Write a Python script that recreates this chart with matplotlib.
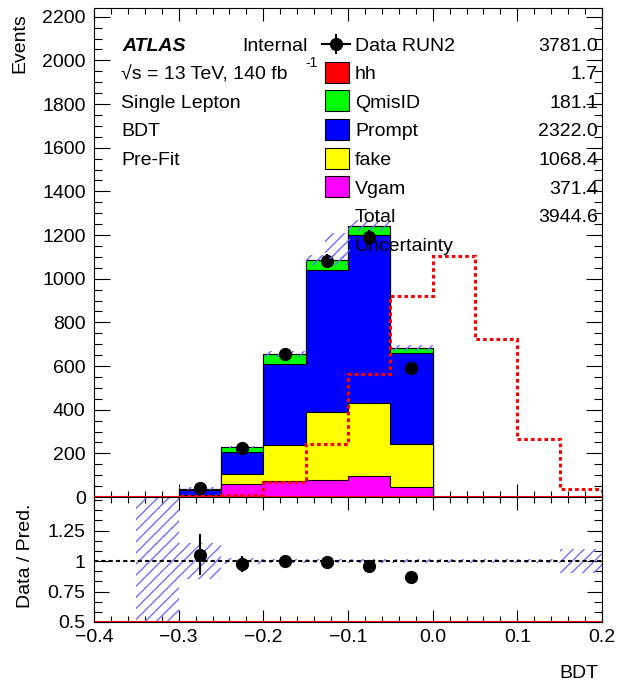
import numpy as np
import matplotlib
matplotlib.use("Agg")
import matplotlib.pyplot as plt
from matplotlib.ticker import MultipleLocator, FixedLocator, FormatStrFormatter
from matplotlib.patches import Rectangle
from matplotlib.lines import Line2D

plt.rcParams['font.family'] = ['Liberation Sans', 'DejaVu Sans']
plt.rcParams['font.size'] = 14
plt.rcParams['hatch.linewidth'] = 1.0

# BDT binning
edges = np.round(np.arange(-0.4, 0.2001, 0.05), 3)

# background yields per bin (stacked bottom -> top)
vgam    = [0, 0, 4, 60, 72, 78, 98, 46, 0, 0, 0, 0]
fake    = [0, 0, 5, 46, 166, 312, 334, 198, 0, 0, 0, 0]
prompt  = [0, 0.5, 25, 99, 372, 651, 770, 417, 0, 0, 0, 0]
qmisid  = [0, 0, 4, 24, 45, 45, 41, 20, 0, 0, 0, 0]
hh      = [0, 0, 0.001, 0.003, 0.030, 0.105, 0.243, 0.397, 0.478, 0.313, 0.114, 0.016]
data    = [0, 0, 40, 224, 656, 1080, 1190, 592, 0, 0, 0, 0]
rel_unc = [0, 0.6, 0.15, 0.025, 0.02, 0.02, 0.02, 0.02, 0.02, 0.02, 0.02, 0.1]

labels = ["Data RUN2", "hh", "QmisID", "Prompt", "fake", "Vgam"]
yields = ["3781.0", "1.7", "181.1", "2322.0", "1068.4", "371.4"]
total_yield = "3944.6"
colors = {"hh": "#ff0000", "QmisID": "#00ff00", "Prompt": "#0000ff",
          "fake": "#ffff00", "Vgam": "#ff00ff"}
hatch_col = "#7070ff"

W, H = 623, 682
def fx(x):
    return x / W
def fy(y):
    return 1 - y / H

fig = plt.figure(figsize=(W / 100, H / 100), dpi=100)
ax = fig.add_axes([fx(94), fy(497), (602 - 94) / W, (497 - 8) / H])
rax = fig.add_axes([fx(94), fy(622), (602 - 94) / W, (622 - 497) / H])

layers = [np.array(v, float) for v in (vgam, fake, prompt, qmisid, hh)]
cum = np.cumsum(layers, axis=0)
total = cum[-1]
names = ["Vgam", "fake", "Prompt", "QmisID", "hh"]

# stack drawn from the top-most cumulative down
for i in range(len(names) - 1, -1, -1):
    ec = "red" if names[i] == "hh" else "black"
    ax.stairs(cum[i], edges, baseline=0, fill=True, facecolor=colors[names[i]],
              edgecolor=ec, linewidth=0.8, zorder=2)

# total uncertainty band
rel = np.array(rel_unc)
lo = total * (1 - rel)
hi = total * (1 + rel)
ax.fill_between(edges, np.append(lo, lo[-1]), np.append(hi, hi[-1]), step="post",
                facecolor="none", edgecolor=hatch_col, hatch="///", linewidth=0, zorder=3)

# signal shape normalised to the total background
hh_arr = np.array(hh)
hh_scaled = hh_arr * total.sum() / hh_arr.sum()
ax.stairs(hh_scaled, edges, color="red", linestyle=(0, (1.2, 1.0)), linewidth=2.2, zorder=4)

centers = 0.5 * (edges[:-1] + edges[1:])
d = np.array(data, float)
mask = d > 0
ax.errorbar(centers[mask], d[mask], yerr=np.sqrt(d[mask]), fmt="o", color="black",
            ms=8.5, elinewidth=1.5, capsize=0, zorder=5)
ax.axhline(0, color="red", lw=1.5, zorder=6)

ax.set_xlim(-0.4, 0.2)
ax.set_ylim(0, 2240)
ax.yaxis.set_major_locator(MultipleLocator(200))
ax.yaxis.set_minor_locator(MultipleLocator(50))
ax.xaxis.set_major_locator(MultipleLocator(0.1))
ax.xaxis.set_minor_locator(MultipleLocator(0.02))
ax.tick_params(which="both", direction="in", top=True, right=True, labelbottom=False, width=0.8)
ax.tick_params(axis="y", which="major", length=11.5)
ax.tick_params(axis="y", which="minor", length=5.8)
ax.tick_params(axis="x", which="major", length=9.4)
ax.tick_params(axis="x", which="minor", length=4.5)
ax.tick_params(axis="y", pad=6)

# ratio panel
ratio_lo = np.append(1 - rel, 1 - rel[-1])
ratio_hi = np.append(1 + rel, 1 + rel[-1])
rax.fill_between(edges, ratio_lo, ratio_hi, step="post", facecolor="none",
                 edgecolor=hatch_col, hatch="///", linewidth=0, zorder=2)
rax.axhline(1, color="black", linestyle=(0, (2, 1.5)), lw=1.5, zorder=3)
ratio = d[mask] / total[mask]
ratio_err = np.sqrt(d[mask]) / total[mask]
rax.errorbar(centers[mask], ratio, yerr=ratio_err, fmt="o", color="black",
             ms=8.5, elinewidth=1.5, capsize=0, zorder=5)
rax.axhline(0.5, color="red", lw=1.5, zorder=6)
rax.set_xlim(-0.4, 0.2)
rax.set_ylim(0.5, 1.525)
rax.yaxis.set_major_locator(FixedLocator([0.5, 0.75, 1.0, 1.25]))
rax.yaxis.set_minor_locator(FixedLocator(np.arange(0.5, 1.53, 0.25 / 3)))
rax.yaxis.set_major_formatter(FormatStrFormatter("%g"))
rax.xaxis.set_major_locator(MultipleLocator(0.1))
rax.xaxis.set_minor_locator(MultipleLocator(0.02))
rax.tick_params(which="both", direction="in", top=True, right=True, width=0.8)
rax.tick_params(axis="y", which="major", length=11)
rax.tick_params(axis="y", which="minor", length=5.5)
rax.tick_params(axis="x", which="major", length=9)
rax.tick_params(axis="x", which="minor", length=4.5)
rax.tick_params(axis="y", pad=6)
rax.tick_params(axis="x", pad=5)

for a in (ax, rax):
    for s in a.spines.values():
        s.set_linewidth(0.8)

fig.text(fx(20), fy(13), "Events", rotation=90, ha="center", va="top")
fig.text(fx(26), fy(556), "Data / Pred.", rotation=90, ha="center", va="center")
fig.text(fx(598), fy(678), "BDT", ha="right", va="baseline")

# ATLAS labels
fig.text(fx(122), fy(50.7), "ATLAS", fontweight="bold", fontstyle="italic", va="baseline")
fig.text(fx(242), fy(50.7), "Internal", va="baseline")
fig.text(fx(121), fy(79.3), "\u221as = 13 TeV, 140 fb", va="baseline")
fig.text(fx(305), fy(67), "-1", fontsize=10, va="baseline")
for k, txt in enumerate(["Single Lepton", "BDT", "Pre-Fit"]):
    fig.text(fx(121), fy(107.9 + 28.6 * k), txt, va="baseline")

# legend
for k, (lab, val) in enumerate(zip(labels, yields)):
    base = 50.7 + 28.6 * k
    fig.text(fx(355), fy(base), lab, va="baseline")
    fig.text(fx(598), fy(base), val, va="baseline", ha="right")
    yc = base - 7
    if k == 0:
        fig.add_artist(Line2D([fx(322), fx(350)], [fy(yc), fy(yc)], color="black", lw=1.5))
        fig.add_artist(Line2D([fx(336), fx(336)], [fy(yc - 9), fy(yc + 9)], color="black", lw=1.5))
        fig.add_artist(Line2D([fx(336)], [fy(yc)], marker="o", ms=8.5, color="black"))
    else:
        fig.add_artist(Rectangle((fx(325), fy(yc + 10.5)), 24 / W, 21 / H,
                                 facecolor=colors[lab], edgecolor="black", lw=0.8,
                                 transform=fig.transFigure))
base_t = 50.7 + 28.6 * 6
fig.text(fx(355), fy(base_t), "Total", va="baseline")
fig.text(fx(598), fy(base_t), total_yield, va="baseline", ha="right")
fig.text(fx(355), fy(base_t + 28.6), "Uncertainty", va="baseline")
fig.add_artist(Rectangle((fx(325), fy(259)), 25 / W, 26 / H, facecolor="none",
                         edgecolor=hatch_col, hatch="///", lw=0, transform=fig.transFigure))

fig.savefig("out.png", dpi=100)
